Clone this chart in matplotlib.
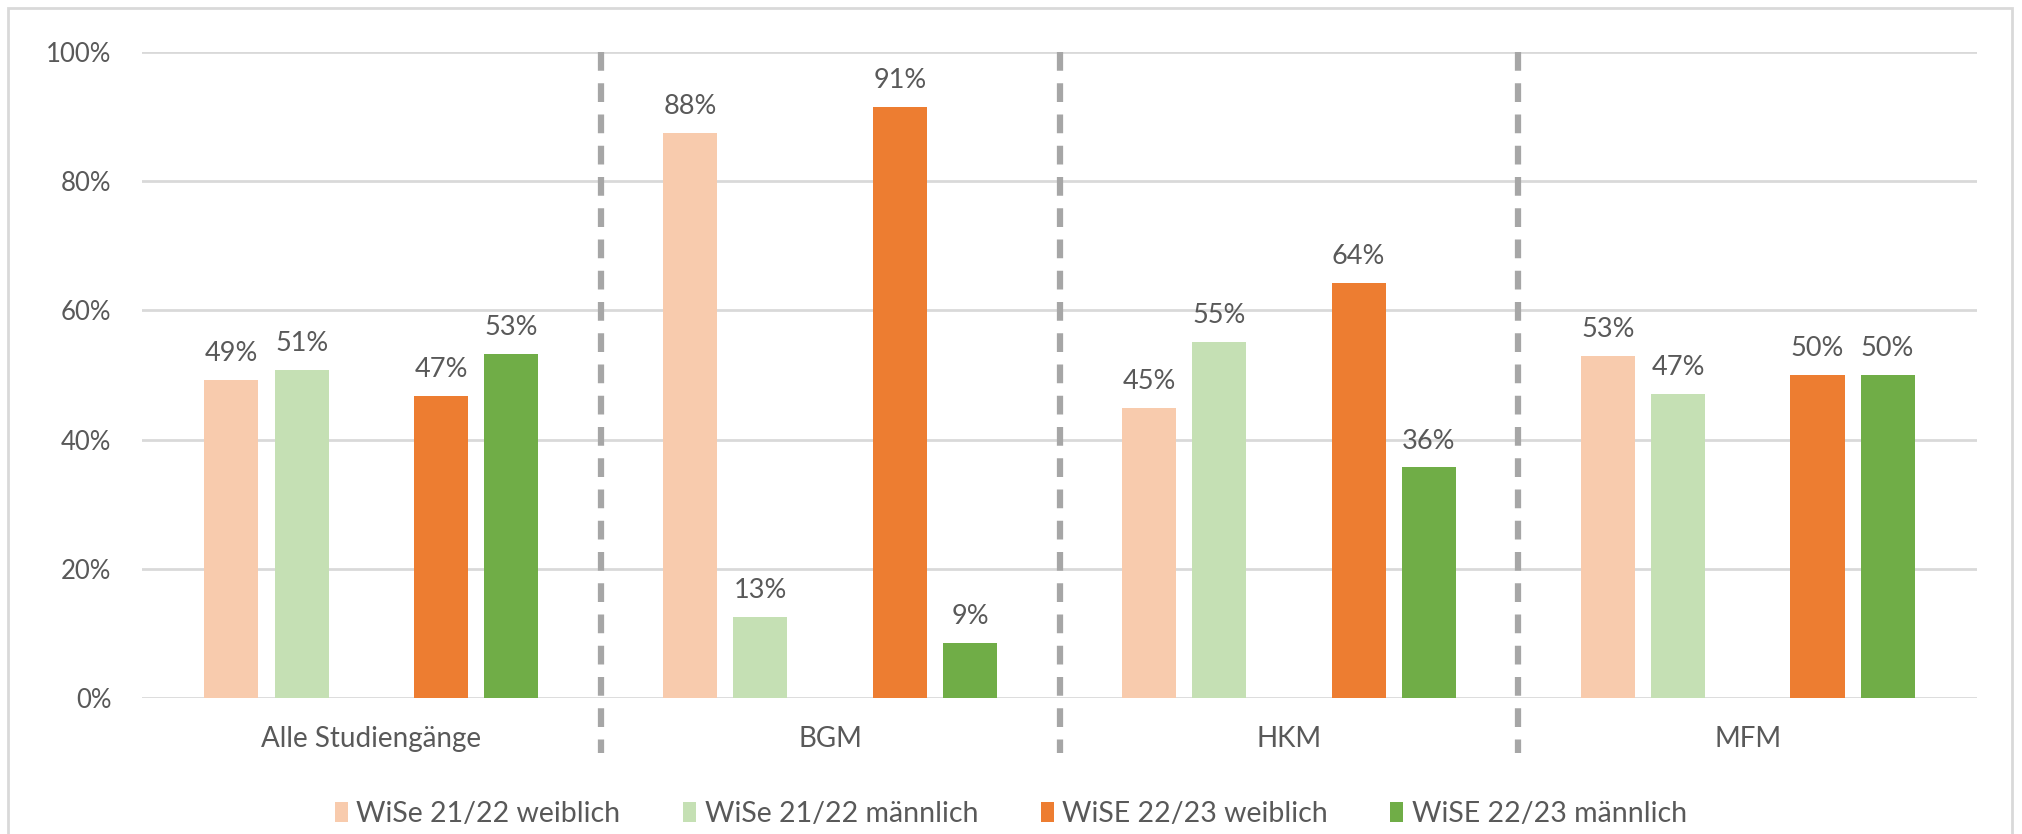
# Anteil weiblich / maennlich nach Studiengang

import matplotlib.pyplot as plt
from matplotlib.patches import Rectangle
import numpy as np

plt.rcParams['font.family'] = ['Lato', 'DejaVu Sans']

categories = ['Alle Studiengänge', 'BGM', 'HKM', 'MFM']
series_names = ['WiSe 21/22 weiblich', 'WiSe 21/22 männlich',
                'WiSE 22/23 weiblich', 'WiSE 22/23 männlich']
ws21_w = [49.2, 87.5, 44.9, 52.9]
ws21_m = [50.8, 12.5, 55.1, 47.1]
ws22_w = [46.7, 91.5, 64.3, 50.0]
ws22_m = [53.3, 8.5, 35.7, 50.0]
value_labels = [['49%', '88%', '45%', '53%'],
                ['51%', '13%', '55%', '47%'],
                ['47%', '91%', '64%', '50%'],
                ['53%', '9%', '36%', '50%']]

colors = ['#F8CBAD', '#C5E0B4', '#ED7D31', '#70AD47']
offsets = [-0.305, -0.152, 0.152, 0.305]
bar_w = 0.118
text_col = '#595959'

fig = plt.figure(figsize=(20.22, 8.34), dpi=100, facecolor='w')
ax = fig.add_axes([0.0702, 0.163, 0.9076, 0.7746])

x = np.arange(len(categories))
all_series = [ws21_w, ws21_m, ws22_w, ws22_m]
for i, vals in enumerate(all_series):
    bars = ax.bar(x + offsets[i], vals, width=bar_w, color=colors[i],
                  label=series_names[i], zorder=3)
    for b, lab in zip(bars, value_labels[i]):
        ax.annotate(lab, (b.get_x() + b.get_width() / 2, b.get_height()),
                    xytext=(0, 10), textcoords='offset points',
                    ha='center', va='bottom', fontsize=19.5, color=text_col)

ax.set_xlim(-0.5, len(categories) - 0.5)
ax.set_ylim(0, 100)
ax.set_yticks(np.arange(0, 101, 20))
ax.set_yticklabels([f'{v}%' for v in range(0, 101, 20)])
ax.set_xticks(x)
ax.set_xticklabels(categories)
ax.tick_params(axis='both', length=0, colors=text_col)
ax.tick_params(axis='x', pad=20, labelsize=20)
ax.tick_params(axis='y', pad=22, labelsize=18.5)
ax.grid(axis='y', color='#D9D9D9', linewidth=2, zorder=0)
for s in ax.spines.values():
    s.set_visible(False)

# dashed separators between groups
for xs in [0.5, 1.5, 2.5]:
    ax.plot([xs, xs], [1.0, -0.085], transform=ax.get_xaxis_transform(),
            color='#A6A6A6', linewidth=4.5, linestyle=(0, (3, 2)),
            clip_on=False, zorder=4)

leg = fig.legend(loc='center', bbox_to_anchor=(0.5, 0.024), ncol=4,
                 frameon=False, fontsize=20.5, handlelength=0.45,
                 handleheight=0.7, handletextpad=0.3, columnspacing=2.2)
for t in leg.get_texts():
    t.set_color(text_col)

# chart frame
fig.patches.append(Rectangle((0.004, -0.05), 0.991, 1.04,
                             transform=fig.transFigure, fill=False,
                             edgecolor='#D9D9D9', linewidth=2))

plt.savefig('out.png', dpi=100, facecolor='w')
